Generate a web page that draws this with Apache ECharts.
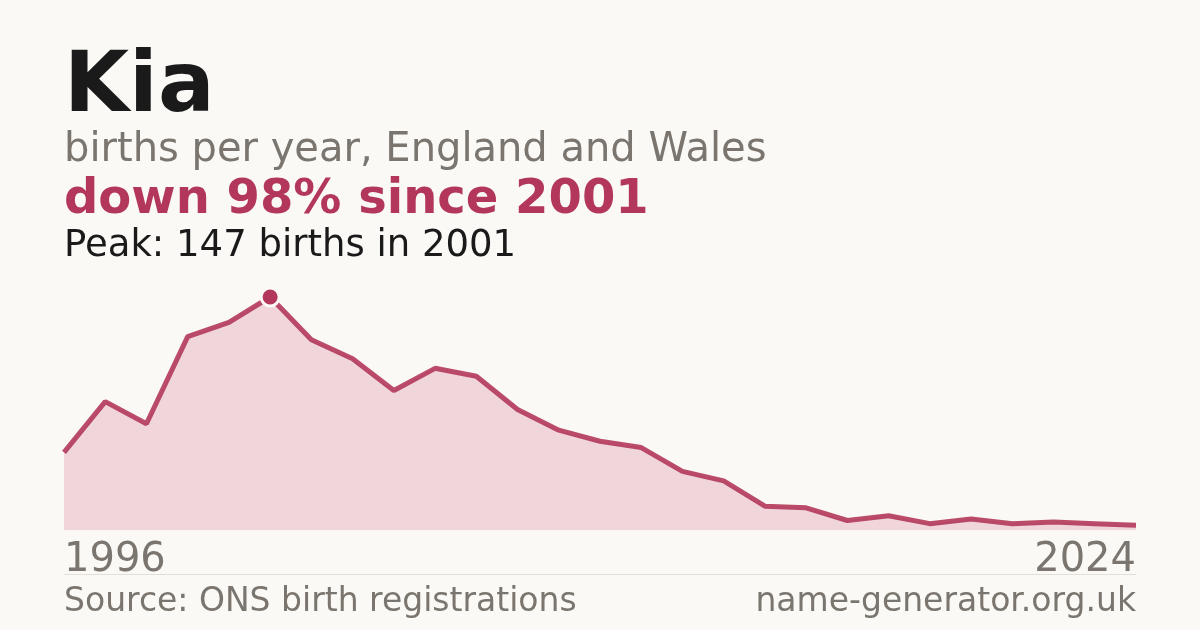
<!DOCTYPE html>
<html>
<head>
<meta charset="utf-8">
<script src="https://cdn.jsdelivr.net/npm/echarts@6/dist/echarts.min.js"></script>
<style>
html,body{margin:0;padding:0;background:#faf9f5;}
#chart{width:1200px;height:630px;}
</style>
</head>
<body>
<div id="chart"></div>
<script>
const years = [1996,1997,1998,1999,2000,2001,2002,2003,2004,2005,2006,2007,2008,2009,2010,2011,2012,2013,2014,2015,2016,2017,2018,2019,2020,2021,2022];
const births = [49,81,67,122,131,147,120,108,88,102,97,76,63,56,52,37,31,15,14,6,9,4,7,4,5,4,3];
const tickLabels = ['1996','2024'];
const titleText = 'Kia';
const subtitleText = 'births per year, England and Wales';
const changeText = 'down 98% since 2001';
const peakText = 'Peak: 147 births in 2001';
const sourceText = 'Source: ONS birth registrations';
const siteText = 'name-generator.org.uk';

const RED = '#b3375a';
const GREY = '#7a756e';
const DARK = '#1a1a1a';
const FONT = 'DejaVu Sans';

const last = years.length - 1;
const catData = years.map((y, i) => {
  const item = { value: String(y) };
  if (i === 0) item.textStyle = { align: 'left' };
  if (i === last) item.textStyle = { align: 'right' };
  return item;
});

const chart = echarts.init(document.getElementById('chart'), null, { renderer: 'canvas' });
chart.setOption({
  backgroundColor: '#faf9f5',
  animation: false,
  grid: { left: 64, right: 64, top: 297, bottom: 100 },
  xAxis: {
    type: 'category',
    boundaryGap: false,
    data: catData,
    axisLine: { show: false },
    axisTick: { show: false },
    splitLine: { show: false },
    axisLabel: {
      show: true,
      interval: (i) => i === 0 || i === last,
      formatter: (v, i) => (i === 0 ? tickLabels[0] : tickLabels[1]),
      fontFamily: FONT,
      fontSize: 40,
      color: GREY,
      verticalAlign: 'middle',
      margin: 11,
      hideOverlap: false
    }
  },
  yAxis: {
    type: 'value',
    min: 0,
    max: 147,
    show: false
  },
  series: [{
    type: 'line',
    data: births,
    showSymbol: false,
    lineStyle: { color: RED, width: 5, opacity: 0.9 },
    areaStyle: { color: '#f0d5db', opacity: 1 },
    itemStyle: { color: RED },
    markPoint: {
      symbol: 'circle',
      symbolSize: 18,
      data: [{ type: 'max' }],
      itemStyle: { color: RED, borderColor: '#faf9f5', borderWidth: 3 },
      label: { show: false }
    }
  }],
  graphic: [
    { type: 'text', left: 64, top: 47, style: { text: titleText, font: 'bold 84px "DejaVu Sans"', fill: DARK } },
    { type: 'text', left: 64, top: 131, style: { text: subtitleText, font: '40px "DejaVu Sans"', fill: GREY } },
    { type: 'text', left: 64, top: 177, style: { text: changeText, font: 'bold 48px "DejaVu Sans"', fill: RED } },
    { type: 'text', left: 64, top: 228, style: { text: peakText, font: '37px "DejaVu Sans"', fill: DARK } },
    { type: 'line', shape: { x1: 64, y1: 574.5, x2: 1136, y2: 574.5 }, style: { stroke: '#e2dfd9', lineWidth: 1 } },
    { type: 'text', left: 64, top: 586, style: { text: sourceText, font: '33px "DejaVu Sans"', fill: GREY } },
    { type: 'text', right: 64, top: 586, style: { text: siteText, font: '33px "DejaVu Sans"', fill: GREY } }
  ]
});
</script>
</body>
</html>
